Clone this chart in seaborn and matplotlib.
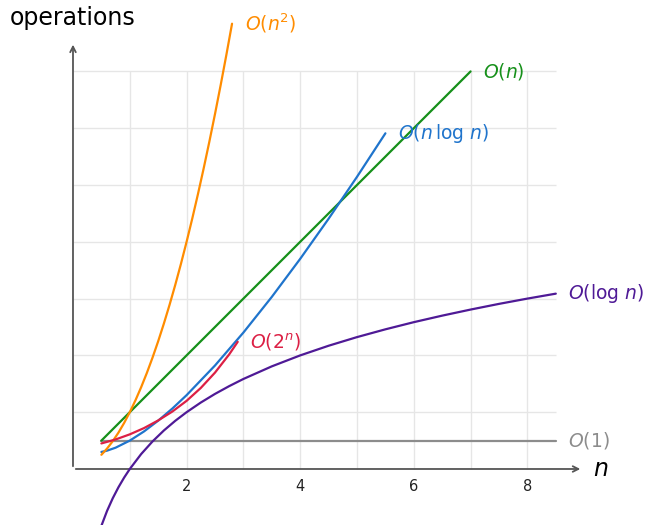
import numpy as np
import pandas as pd
import seaborn as sns
import matplotlib.pyplot as plt

# values
const_x = [0.5, 8.5]
const_y = [0.5, 0.5]

log_x = [0.5, 0.6, 0.7, 0.8, 0.9, 1.0, 1.2, 1.4, 1.6, 1.8, 2.0, 2.25, 2.5, 2.75,
         3.0, 3.5, 4.0, 4.5, 5.0, 5.5, 6.0, 6.5, 7.0, 7.5, 8.0, 8.5]
log_y = [-1.0, -0.737, -0.515, -0.322, -0.152, 0.0, 0.263, 0.485, 0.678, 0.848,
         1.0, 1.170, 1.322, 1.459, 1.585, 1.807, 2.0, 2.170, 2.322, 2.459,
         2.585, 2.700, 2.807, 2.907, 3.0, 3.087]

lin_x = [0.5, 7.0]
lin_y = [0.5, 7.0]

nlog_x = [0.5, 0.6, 0.75, 1.0, 1.25, 1.5, 1.75, 2.0, 2.5, 3.0, 3.5, 4.0, 4.5, 5.0, 5.5]
nlog_y = [0.30, 0.323, 0.375, 0.5, 0.661, 0.851, 1.065, 1.30, 1.822, 2.402,
          3.03, 3.70, 4.406, 5.144, 5.91]

sq_x = [0.5, 0.6, 0.7, 0.8, 0.9, 1.0, 1.1, 1.2, 1.3, 1.4, 1.5, 1.6, 1.7, 1.8,
        1.9, 2.0, 2.1, 2.2, 2.3, 2.4, 2.5, 2.6, 2.7, 2.8]
sq_y = [0.25, 0.36, 0.49, 0.64, 0.81, 1.0, 1.21, 1.44, 1.69, 1.96, 2.25, 2.56,
        2.89, 3.24, 3.61, 4.0, 4.41, 4.84, 5.29, 5.76, 6.25, 6.76, 7.29, 7.84]

exp_x = [0.5, 0.75, 1.0, 1.25, 1.5, 1.75, 2.0, 2.25, 2.5, 2.75, 2.9]
exp_y = [0.45, 0.52, 0.61, 0.72, 0.855, 1.012, 1.2, 1.427, 1.697, 2.018, 2.239]

xticks = [2, 4, 6, 8]

curves = [
    (const_x, const_y, "#8c8c8c", r"$O(1)$"),
    (log_x, log_y, "#4f1a96", r"$O(\log\,n)$"),
    (lin_x, lin_y, "#16901a", r"$O(n)$"),
    (nlog_x, nlog_y, "#1f74cc", r"$O(n\,\log\,n)$"),
    (sq_x, sq_y, "#ff8c00", r"$O(n^2)$"),
    (exp_x, exp_y, "#dc2045", r"$O(2^n)$"),
]

sns.set_style("white")
plt.rcParams['font.family'] = ['DejaVu Sans']
plt.rcParams['mathtext.fontset'] = 'dejavusans'

fig = plt.figure(figsize=(6.48, 5.25), dpi=100)
ax = fig.add_axes([0, 0, 1, 1])
ax.set_xlim(-1.285, 10.123)
ax.set_ylim(-0.986, 8.257)
ax.axis('off')

# grid
grid_col = "#e6e6e6"
ax.vlines(range(1, 9), 0, 7, color=grid_col, lw=1, zorder=0)
ax.hlines(range(1, 8), 0, 8.5, color=grid_col, lw=1, zorder=0)

# axes with arrows
ax.annotate("", xy=(8.98, 0), xytext=(0, 0),
            arrowprops=dict(arrowstyle="->", color="#555555", lw=1.3), zorder=1)
ax.annotate("", xy=(0, 7.52), xytext=(0, 0),
            arrowprops=dict(arrowstyle="->", color="#555555", lw=1.3), zorder=1)

for t in xticks:
    ax.text(t, -0.3, str(t), ha='center', va='center', fontsize=10.5, color="#222222")

ax.text(-1.11, 7.94, "operations", ha='left', va='center', fontsize=17, color="black")
ax.text(9.15, 0, r"$n$", ha='left', va='center', fontsize=17, color="black")

for xs, ys, col, lab in curves:
    df = pd.DataFrame({"x": xs, "y": ys})
    sns.lineplot(data=df, x="x", y="y", ax=ax, color=col, lw=1.6, sort=False, zorder=3)
    ax.annotate(lab, xy=(xs[-1], ys[-1]), xytext=(9, 0), textcoords='offset points',
                ha='left', va='center', fontsize=13.5, color=col)

fig.savefig("out.png", dpi=100)
